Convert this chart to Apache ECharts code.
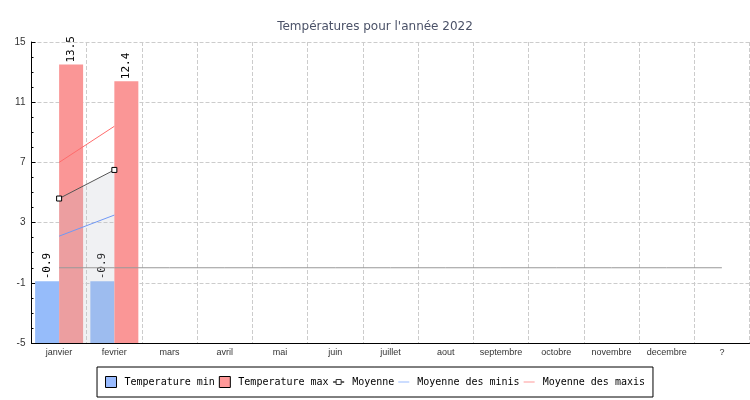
<!DOCTYPE html>
<html>
<head>
<meta charset="utf-8">
<script src="https://cdn.jsdelivr.net/npm/echarts@6/dist/echarts.min.js"></script>
<style>
  html, body { margin: 0; padding: 0; background: #fff; }
  #chart { width: 750px; height: 400px; }
</style>
</head>
<body>
<div id="chart"></div>
<script>
var mois = ['janvier', 'fevrier', 'mars', 'avril', 'mai', 'juin', 'juillet', 'aout', 'septembre', 'octobre', 'novembre', 'decembre', '?'];
var tempMin = [-0.9, -0.9];
var tempMax = [13.5, 12.4];
var moyenne = [4.6, 6.5];
var moyenneMinis = [2.1, 3.5];
var moyenneMaxis = [7.0, 9.4];
var ligneZero = [0, 0, 0, 0, 0, 0, 0, 0, 0, 0, 0, 0, 0];
var yTicks = [-5, -1, 3, 7, 11, 15];

// les barres partent du bas de l'axe (-5), donc on decale toutes les valeurs
var base = yTicks[0];
function decale(arr) {
  return arr.map(function (v) { return v == null ? null : v - base; });
}

var police = 'DejaVu Sans Mono';

function labelBarre(valeurs) {
  return {
    show: true,
    position: 'top',
    rotate: 90,
    align: 'left',
    verticalAlign: 'middle',
    distance: 2,
    color: '#000',
    fontFamily: police,
    fontSize: 11,
    formatter: function (p) { return valeurs[p.dataIndex]; }
  };
}

// icones de legende : trait seul, ou trait avec petit carre
var iconeTrait = 'path://M0,0L11,0L11,1L0,1Z';
var iconeMoyenne = 'path://M0,2.5L3,2.5L3,0L8,0L8,2.5L11,2.5L8,2.5L8,5L3,5L3,2.5Z';

var chart = echarts.init(document.getElementById('chart'));
chart.setOption({
  animation: false,
  title: {
    text: "Températures pour l'année 2022",
    left: 'center',
    top: 16,
    textStyle: { fontFamily: 'DejaVu Sans', fontSize: 12, fontWeight: 'normal', color: '#4b5268' }
  },
  legend: {
    bottom: 3,
    left: 'center',
    borderColor: '#000',
    borderWidth: 1,
    padding: [9, 8],
    itemWidth: 11,
    itemHeight: 11,
    itemGap: 4,
    textStyle: { fontFamily: police, fontSize: 10, color: '#000', padding: [0, 0, 0, 3] },
    data: [
      { name: 'Temperature min', icon: 'rect', itemStyle: { color: '#99bbff', borderColor: '#000', borderWidth: 1 } },
      { name: 'Temperature max', icon: 'rect', itemStyle: { color: '#ff9999', borderColor: '#000', borderWidth: 1 } },
      { name: 'Moyenne', icon: iconeMoyenne, itemStyle: { color: '#fff', borderColor: '#333', borderWidth: 1 } },
      { name: 'Moyenne des minis', icon: iconeTrait, itemStyle: { color: '#99bbff', borderWidth: 0 } },
      { name: 'Moyenne des maxis', icon: iconeTrait, itemStyle: { color: '#ff9999', borderWidth: 0 } }
    ]
  },
  grid: { left: 31.5, right: 0.5, top: 42, bottom: 57, containLabel: false, outerBoundsMode: 'none' },
  xAxis: {
    type: 'category',
    data: mois,
    boundaryGap: true,
    axisLine: { lineStyle: { color: '#000', width: 1 } },
    axisTick: { length: 5, lineStyle: { color: '#000' } },
    axisLabel: { interval: 0, fontSize: 9, color: '#333', margin: 5 },
    splitLine: { show: true, lineStyle: { type: 'dashed', color: '#ccc' } }
  },
  yAxis: {
    type: 'value',
    min: 0,
    max: yTicks[yTicks.length - 1] - base,
    interval: yTicks[1] - yTicks[0],
    axisLine: { show: true, lineStyle: { color: '#000', width: 1 } },
    axisTick: { show: true, inside: true, length: 4, lineStyle: { color: '#000' } },
    minorTick: { show: true, splitNumber: 4, length: 2, lineStyle: { color: '#000' } },
    axisLabel: { fontSize: 10, color: '#333', margin: 6, formatter: function (v) { return v + base; } },
    splitLine: { lineStyle: { type: 'dashed', color: '#ccc' } }
  },
  series: [
    {
      name: 'Temperature min',
      type: 'bar',
      data: decale(tempMin),
      barWidth: 24,
      barGap: '0%',
      itemStyle: { color: '#96bcfa' },
      label: labelBarre(tempMin)
    },
    {
      name: 'Temperature max',
      type: 'bar',
      data: decale(tempMax),
      barWidth: 24,
      itemStyle: { color: '#fa9696' },
      label: labelBarre(tempMax)
    },
    {
      name: 'Moyenne',
      type: 'line',
      data: decale(moyenne),
      symbol: 'rect',
      symbolSize: 5,
      showAllSymbol: true,
      itemStyle: { color: '#fff', borderColor: '#000', borderWidth: 1 },
      lineStyle: { color: '#555', width: 1 },
      areaStyle: { color: 'rgba(185,190,198,0.31)' },
      z: 3
    },
    {
      name: 'Moyenne des minis',
      type: 'line',
      data: decale(moyenneMinis),
      symbol: 'none',
      lineStyle: { color: '#7098f5', width: 1 },
      itemStyle: { color: '#7098f5' },
      z: 3
    },
    {
      name: 'Moyenne des maxis',
      type: 'line',
      data: decale(moyenneMaxis),
      symbol: 'none',
      lineStyle: { color: '#ff6b6b', width: 1 },
      itemStyle: { color: '#ff6b6b' },
      z: 3
    },
    {
      name: 'zero',
      type: 'line',
      data: decale(ligneZero),
      symbol: 'none',
      silent: true,
      lineStyle: { color: '#999', width: 1 },
      itemStyle: { color: '#999' },
      z: 3
    }
  ]
});
</script>
</body>
</html>
